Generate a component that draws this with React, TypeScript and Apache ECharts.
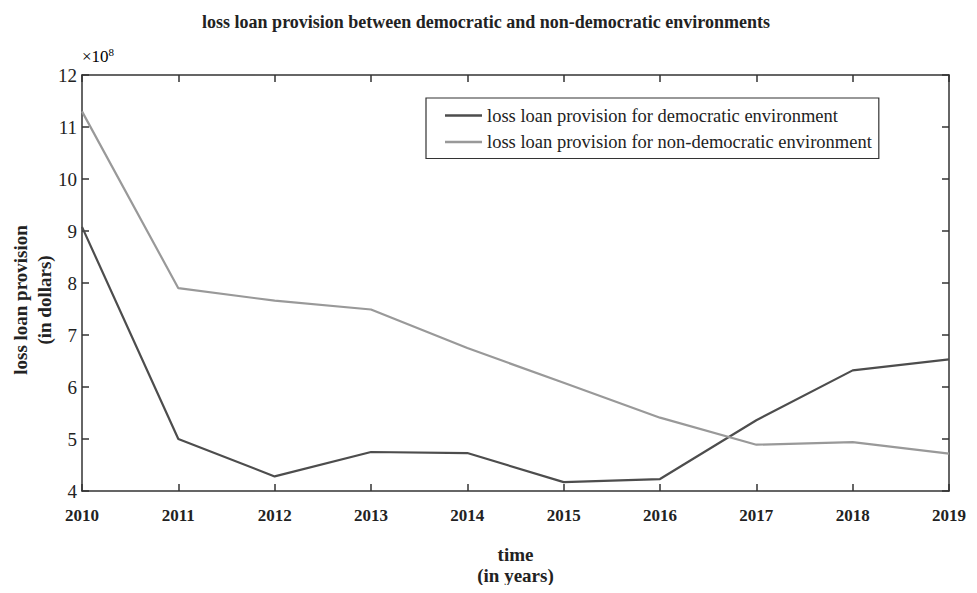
import React, { useEffect, useRef } from "react";
import * as echarts from "echarts";

// Years on the horizontal axis
const years = ["2010", "2011", "2012", "2013", "2014", "2015", "2016", "2017", "2018", "2019"];

// Loss loan provision, in units of 1e8 dollars
const democratic = [9.08, 5.0, 4.28, 4.75, 4.73, 4.17, 4.23, 5.36, 6.32, 6.53];
const nonDemocratic = [11.3, 7.9, 7.66, 7.49, 6.75, 6.08, 5.41, 4.89, 4.94, 4.72];

const seriesNames = [
  "loss loan provision for democratic environment",
  "loss loan provision for non-democratic environment",
];

const FONT = "'Liberation Serif', 'Times New Roman', serif";
const AXIS_COLOR = "#333333";
const TEXT_COLOR = "#222222";

// Chart box sits inside the body's 8px margin
const W = 961;
const H = 585;

export default function App() {
  const ref = useRef<HTMLDivElement>(null);

  useEffect(() => {
    if (!ref.current) return;
    const chart = echarts.init(ref.current, undefined, { renderer: "svg" });

    const axisLine = { show: true, lineStyle: { color: AXIS_COLOR, width: 1.5 } };
    const axisTick = { show: true, inside: true, length: 7, lineStyle: { color: AXIS_COLOR, width: 1.5 } };

    chart.setOption({
      animation: false,
      backgroundColor: "#ffffff",
      textStyle: { fontFamily: FONT },
      title: {
        text: "loss loan provision between democratic and non-democratic environments",
        left: 481 - 8,
        textAlign: "center",
        top: 0,
        textStyle: { fontFamily: FONT, fontSize: 18, fontWeight: "bold", color: TEXT_COLOR },
      },
      grid: { left: 74, right: W - 942, top: 67, bottom: H - 483 },
      legend: {
        orient: "vertical",
        left: 418,
        top: 90,
        data: seriesNames,
        icon: "rect",
        itemWidth: 37,
        itemHeight: 2.5,
        itemGap: 7.5,
        itemTextGap: 4,
        padding: [8, 7, 7, 19],
        borderColor: "#333",
        borderWidth: 1.2,
        backgroundColor: "#ffffff",
        textStyle: { fontFamily: FONT, fontSize: 18.5, color: TEXT_COLOR },
      },
      graphic: [
        {
          type: "text",
          left: 74,
          top: 38,
          style: {
            text: "{a|×10}{b|8}",
            rich: {
              a: { fontFamily: FONT, fontSize: 17, color: TEXT_COLOR, verticalAlign: "bottom" },
              b: { fontFamily: FONT, fontSize: 11, color: TEXT_COLOR, verticalAlign: "top", padding: [0, 0, 8, 0] },
            },
          },
        },
        {
          type: "text",
          x: 24,
          y: 292,
          rotation: Math.PI / 2,
          style: {
            text: "loss loan provision\n(in dollars)",
            align: "center",
            verticalAlign: "middle",
            fontFamily: FONT,
            fontSize: 19,
            fontWeight: "bold",
            lineHeight: 24,
            fill: TEXT_COLOR,
          },
        },
      ],
      xAxis: [
        {
          type: "category",
          data: years,
          boundaryGap: false,
          position: "bottom",
          axisLine,
          axisTick,
          axisLabel: {
            fontFamily: FONT,
            fontSize: 17,
            fontWeight: "bold",
            color: TEXT_COLOR,
            margin: 16,
          },
          splitLine: { show: false },
          name: "time\n(in years)",
          nameLocation: "middle",
          nameGap: 53,
          nameTextStyle: { fontFamily: FONT, fontSize: 19, fontWeight: "bold", color: TEXT_COLOR, lineHeight: 21 },
        },
        {
          type: "category",
          data: years,
          boundaryGap: false,
          position: "top",
          axisLine,
          axisTick,
          axisLabel: { show: false },
          splitLine: { show: false },
        },
      ],
      yAxis: [
        {
          type: "value",
          min: 4,
          max: 12,
          interval: 1,
          position: "left",
          axisLine,
          axisTick,
          axisLabel: { fontFamily: FONT, fontSize: 19, color: TEXT_COLOR, margin: 5 },
          splitLine: { show: false },
        },
        {
          type: "value",
          min: 4,
          max: 12,
          interval: 1,
          position: "right",
          axisLine,
          axisTick,
          axisLabel: { show: false },
          splitLine: { show: false },
        },
      ],
      series: [
        {
          name: seriesNames[0],
          type: "line",
          data: democratic,
          symbol: "none",
          lineStyle: { color: "#4d4d4d", width: 2.2 },
          itemStyle: { color: "#4d4d4d" },
        },
        {
          name: seriesNames[1],
          type: "line",
          data: nonDemocratic,
          symbol: "none",
          lineStyle: { color: "#999999", width: 2.2 },
          itemStyle: { color: "#999999" },
        },
      ],
    });

    return () => chart.dispose();
  }, []);

  return <div ref={ref} style={{ width: W, height: H, marginBottom: -8 }} />;
}
